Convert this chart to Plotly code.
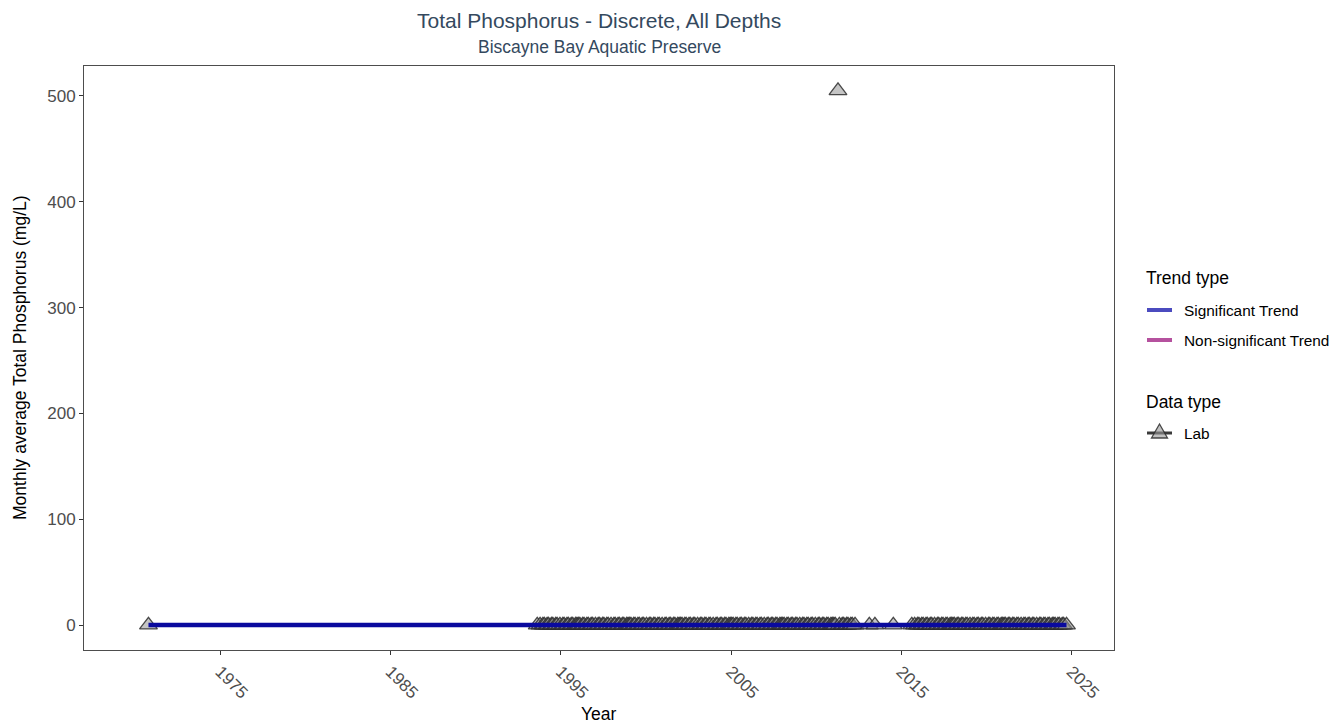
import plotly.graph_objects as go

# Monthly average total phosphorus (mg/L), lab samples
sample_months = [
    "1970-10",
    "1993-08", "1993-10", "1993-12",
    "1994-01", "1994-03", "1994-04", "1994-06", "1994-07", "1994-09", "1994-10", "1994-12",
    "1995-02", "1995-03", "1995-05", "1995-06", "1995-08", "1995-09", "1995-11", "1995-12",
    "1996-01", "1996-02", "1996-04", "1996-05", "1996-07", "1996-08", "1996-10", "1996-11",
    "1997-01", "1997-03", "1997-04", "1997-06", "1997-07", "1997-09", "1997-10", "1997-12",
    "1998-02", "1998-03", "1998-05", "1998-06", "1998-08", "1998-09", "1998-11", "1998-12",
    "1999-01", "1999-02", "1999-04", "1999-05", "1999-07", "1999-08", "1999-10", "1999-11",
    "2000-01", "2000-03", "2000-04", "2000-06", "2000-07", "2000-09", "2000-10", "2000-12",
    "2001-02", "2001-03", "2001-05", "2001-06", "2001-08", "2001-09", "2001-11", "2001-12",
    "2002-01", "2002-02", "2002-04", "2002-05", "2002-07", "2002-08", "2002-10", "2002-11",
    "2003-01", "2003-03", "2003-04", "2003-06", "2003-07", "2003-09", "2003-10", "2003-12",
    "2004-02", "2004-03", "2004-05", "2004-06", "2004-08", "2004-09", "2004-11", "2004-12",
    "2005-01", "2005-02", "2005-04", "2005-05", "2005-07", "2005-08", "2005-10", "2005-11",
    "2006-01", "2006-03", "2006-04", "2006-06", "2006-07", "2006-09", "2006-10", "2006-12",
    "2007-02", "2007-03", "2007-05", "2007-06", "2007-08", "2007-09", "2007-11", "2007-12",
    "2008-01", "2008-02", "2008-04", "2008-05", "2008-07", "2008-08", "2008-10", "2008-11",
    "2009-01", "2009-03", "2009-04", "2009-06", "2009-07", "2009-09", "2009-10", "2009-12",
    "2010-02", "2010-03", "2010-05", "2010-06", "2010-08", "2010-09", "2010-11", "2010-12",
    "2011-01", "2011-02", "2011-04", "2011-05", "2011-07", "2011-08", "2011-10", "2011-11",
    "2012-01", "2012-02", "2012-04",
    "2013-02", "2013-06",
    "2014-07",
    "2015-08", "2015-10", "2015-12",
    "2016-01", "2016-03", "2016-04", "2016-06", "2016-07", "2016-09", "2016-10", "2016-12",
    "2017-02", "2017-03", "2017-05", "2017-06", "2017-08", "2017-09", "2017-11", "2017-12",
    "2018-01", "2018-02", "2018-04", "2018-05", "2018-07", "2018-08", "2018-10", "2018-11",
    "2019-01", "2019-03", "2019-04", "2019-06", "2019-07", "2019-09", "2019-10", "2019-12",
    "2020-02", "2020-03", "2020-05", "2020-06", "2020-08", "2020-09", "2020-11", "2020-12",
    "2021-01", "2021-02", "2021-04", "2021-05", "2021-07", "2021-08", "2021-10", "2021-11",
    "2022-01", "2022-03", "2022-04", "2022-06", "2022-07", "2022-09", "2022-10", "2022-12",
    "2023-02", "2023-03", "2023-05", "2023-06", "2023-08", "2023-09", "2023-11", "2023-12",
    "2024-01", "2024-03", "2024-04", "2024-06", "2024-07", "2024-09",
]

tp_values = [
    0.021,
    0.014, 0.011, 0.009,
    0.012, 0.008, 0.010, 0.015, 0.018, 0.013, 0.011, 0.009,
    0.010, 0.007, 0.012, 0.016, 0.019, 0.014, 0.010, 0.008,
    0.009, 0.011, 0.008, 0.013, 0.017, 0.015, 0.012, 0.010,
    0.008, 0.010, 0.009, 0.014, 0.016, 0.012, 0.011, 0.007,
    0.011, 0.009, 0.013, 0.012, 0.018, 0.015, 0.010, 0.008,
    0.007, 0.010, 0.008, 0.011, 0.015, 0.017, 0.013, 0.009,
    0.009, 0.008, 0.010, 0.012, 0.014, 0.016, 0.011, 0.008,
    0.010, 0.007, 0.009, 0.013, 0.015, 0.012, 0.009, 0.008,
    0.008, 0.009, 0.007, 0.011, 0.014, 0.013, 0.010, 0.009,
    0.009, 0.008, 0.010, 0.012, 0.016, 0.014, 0.011, 0.007,
    0.007, 0.009, 0.011, 0.010, 0.013, 0.018, 0.012, 0.008,
    0.008, 0.007, 0.009, 0.011, 0.014, 0.019, 0.015, 0.010,
    0.009, 0.008, 0.007, 0.010, 0.013, 0.012, 0.011, 0.008,
    0.007, 0.008, 0.009, 0.011, 0.012, 0.014, 0.010, 0.007,
    0.008, 0.006, 0.008, 0.010, 0.013, 0.012, 0.009, 0.007,
    0.006, 0.007, 0.009, 0.011, 0.012, 0.013, 0.010, 0.008,
    0.007, 0.006, 0.008, 0.010, 0.011, 0.014, 0.009, 0.007,
    0.006, 0.008, 505.0, 0.009, 0.012, 0.011, 0.010, 0.007,
    0.007, 0.006, 0.009,
    0.008, 0.010,
    0.011,
    0.009, 0.008, 0.007,
    0.007, 0.006, 0.008, 0.010, 0.012, 0.011, 0.009, 0.007,
    0.006, 0.008, 0.007, 0.011, 0.013, 0.012, 0.008, 0.006,
    0.007, 0.006, 0.009, 0.010, 0.012, 0.010, 0.009, 0.007,
    0.006, 0.007, 0.008, 0.009, 0.011, 0.013, 0.008, 0.006,
    0.005, 0.007, 0.006, 0.009, 0.010, 0.012, 0.009, 0.007,
    0.006, 0.005, 0.008, 0.009, 0.011, 0.010, 0.008, 0.006,
    0.005, 0.006, 0.007, 0.010, 0.012, 0.011, 0.007, 0.006,
    0.006, 0.005, 0.007, 0.008, 0.010, 0.011, 0.009, 0.006,
    0.005, 0.006, 0.007, 0.009, 0.011, 0.010,
]

# Seasonal Kendall trend line endpoints
trend_dates = ["1970-10-15", "2024-09-15"]
trend_values = [0.013, 0.007]

x_tick_years = [1975, 1985, 1995, 2005, 2015, 2025]
y_tick_values = [0, 100, 200, 300, 400, 500]

trend_legend_labels = ["Significant Trend", "Non-significant Trend"]
trend_legend_colors = ["#4b4bbf", "#b5519e"]

sample_dates = [m + "-15" for m in sample_months]

FONT = "Liberation Sans, Arial, sans-serif"
W, H = 1331, 723
M_L, M_R, M_T, M_B = 84, 217, 66, 73
PLOT_W = W - M_L - M_R
PLOT_H = H - M_T - M_B


def px_x(px):
    """Horizontal pixel position -> paper coordinate."""
    return (px - M_L) / PLOT_W


def px_y(py):
    """Vertical pixel position (from top) -> paper coordinate."""
    return (H - M_B - py) / PLOT_H


fig = go.Figure()

# Data points
fig.add_trace(go.Scatter(
    x=sample_dates, y=tp_values, mode="markers",
    marker=dict(symbol="triangle-up", size=15.5,
                color="rgba(150,150,150,0.55)",
                line=dict(color="rgba(45,45,45,0.85)", width=1.3)),
    showlegend=False, hoverinfo="x+y",
))

# Trend line
fig.add_trace(go.Scatter(
    x=trend_dates, y=trend_values, mode="lines",
    line=dict(color="#0a0a9e", width=4.5),
    showlegend=False,
))

axis_common = dict(
    showgrid=False, zeroline=False, automargin=False,
    showline=True, linecolor="#4d4d4d", linewidth=1, mirror=True,
    ticks="outside", ticklen=4, tickcolor="#333333", tickwidth=1,
    tickfont=dict(family=FONT, size=17, color="#4d4d4d"),
)

fig.update_xaxes(
    type="date",
    range=["1967-01-01", "2027-07-01"],
    tickvals=[f"{y}-01-01" for y in x_tick_years],
    ticktext=[str(y) for y in x_tick_years],
    tickangle=45,
    **axis_common,
)
fig.update_yaxes(
    range=[-23.6, 528.3],
    tickvals=y_tick_values,
    **axis_common,
)

annotations = [
    dict(text="Total Phosphorus - Discrete, All Depths", x=0.5, y=px_y(20),
         font=dict(family=FONT, size=21, color="#34495e")),
    dict(text="Biscayne Bay Aquatic Preserve", x=0.5, y=px_y(47),
         font=dict(family=FONT, size=17.5, color="#34495e")),
    dict(text="Year", x=0.5, y=px_y(714),
         font=dict(family=FONT, size=17.5, color="#000000")),
    dict(text="Monthly average Total Phosphorus (mg/L)", x=px_x(20), y=0.5,
         xanchor="center", textangle=-90,
         font=dict(family=FONT, size=17.5, color="#000000")),
    # Legend text
    dict(text="Trend type", x=px_x(1144), y=px_y(278), xanchor="left",
         font=dict(family=FONT, size=17.5, color="#000000")),
    dict(text="Data type", x=px_x(1144), y=px_y(402), xanchor="left",
         font=dict(family=FONT, size=17.5, color="#000000")),
    dict(text="Lab", x=px_x(1182), y=px_y(433), xanchor="left",
         font=dict(family=FONT, size=15.4, color="#000000")),
]
shapes = []
for i, (label, color) in enumerate(zip(trend_legend_labels, trend_legend_colors)):
    row_y = 310 + 30 * i
    annotations.append(dict(text=label, x=px_x(1182), y=px_y(row_y), xanchor="left",
                            font=dict(family=FONT, size=15.4, color="#000000")))
    shapes.append(dict(type="line", xref="paper", yref="paper",
                       x0=px_x(1147), x1=px_x(1172), y0=px_y(row_y), y1=px_y(row_y),
                       line=dict(color=color, width=4)))

# Data type key: line with a triangle symbol
shapes.append(dict(type="line", xref="paper", yref="paper",
                   x0=px_x(1147), x1=px_x(1172), y0=px_y(433), y1=px_y(433),
                   line=dict(color="#3a3a3a", width=3)))
shapes.append(dict(type="path", xref="paper", yref="paper",
                   xsizemode="pixel", ysizemode="pixel",
                   xanchor=px_x(1159.5), yanchor=px_y(433),
                   path="M -8,-5 L 8,-5 L 0,9 Z",
                   fillcolor="rgba(150,150,150,0.6)",
                   line=dict(color="rgba(45,45,45,0.85)", width=1.3)))

for a in annotations:
    a.setdefault("xref", "paper")
    a.setdefault("yref", "paper")
    a.setdefault("showarrow", False)
    a.setdefault("yanchor", "middle")

fig.update_layout(
    width=W, height=H,
    margin=dict(l=M_L, r=M_R, t=M_T, b=M_B, autoexpand=False),
    paper_bgcolor="white", plot_bgcolor="white",
    font=dict(family=FONT, color="#000000"),
    showlegend=False,
    annotations=annotations,
    shapes=shapes,
)

fig.write_html("out.html")
